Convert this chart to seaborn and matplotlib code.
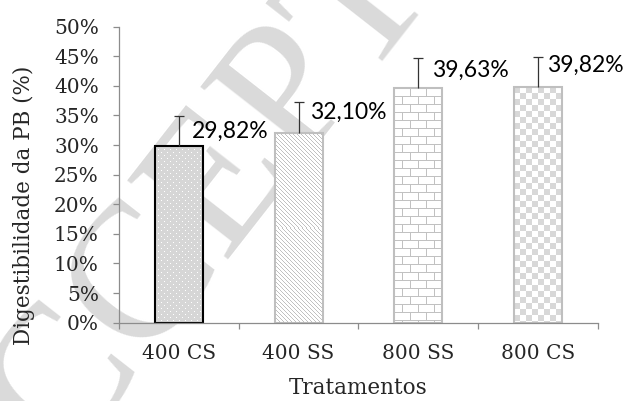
import numpy as np
import matplotlib
matplotlib.use("Agg")
import matplotlib.pyplot as plt
import seaborn as sns

# dados
tratamentos = ["400 CS", "400 SS", "800 SS", "800 CS"]
digest = [29.82, 32.10, 39.63, 39.82]      # %
erro_sup = [5.1, 5.1, 5.0, 5.0]            # barra de erro (so para cima)
y_ticks = [0, 5, 10, 15, 20, 25, 30, 35, 40, 45, 50]

# estilo de cada barra
padroes = ["dots", "diag", "brick", "check"]
bordas = ["black", "#bfbfbf", "#bfbfbf", "#bfbfbf"]
label_off = [(9.5, 10.5), (8.5, 14.5), (10, 13), (6.5, 15.5)]   # pontos

sns.set_style("white")
plt.rcParams["font.family"] = ["DejaVu Serif"]

SANS = "Lato"


def make_pattern(kind, w, h):
    yy, xx = np.mgrid[0:h, 0:w]
    img = np.ones((h, w, 3))
    if kind == "dots":
        img[:] = 0.84
        mask = (yy % 3 == 0) & ((xx + ((yy // 3) % 2) * 3) % 6 == 0)
        img[mask] = 1.0
    elif kind == "diag":
        mask = (xx - yy) % 4 == 0
        img[mask] = 0.76
    elif kind == "brick":
        row = yy // 8
        mask = (yy % 8 == 0) | (((xx + (row % 2) * 8) % 16) == 0)
        img[mask] = 0.76
    elif kind == "check":
        mask = ((xx // 6) + (yy // 6)) % 2 == 0
        img[mask] = 0.85
    return img


fig = plt.figure(figsize=(6.28, 4.01), dpi=100)

# marca d'agua
fig.text(0.40, 0.62, "ACCEPTED", rotation=52, fontsize=140,
         family="Liberation Serif", color="#dadada",
         ha="center", va="center", zorder=-1)

ax = fig.add_axes([0.1895, 0.1953, 0.7627, 0.7382])
ax.patch.set_alpha(0)

sns.barplot(x=tratamentos, y=digest, color="white", width=0.4,
            errorbar=None, ax=ax)

ax.set_xlim(-0.5, len(tratamentos) - 0.5)
ax.set_ylim(0, 50)

for patch, kind, ec in zip(ax.patches, padroes, bordas):
    patch.set_facecolor("none")
    patch.set_edgecolor(ec)
    patch.set_linewidth(1.5)
    patch.set_zorder(2)
    bb = patch.get_window_extent()
    w, h = max(int(round(bb.width)), 1), max(int(round(bb.height)), 1)
    x0 = patch.get_x()
    ext = [x0, x0 + patch.get_width(), 0, patch.get_height()]
    im = ax.imshow(make_pattern(kind, w, h), extent=ext, aspect="auto",
                   interpolation="nearest", zorder=1.5)
    im.set_clip_path(patch)

ax.set_xlim(-0.5, len(tratamentos) - 0.5)
ax.set_ylim(0, 50)

xs = np.arange(len(tratamentos))
eb = ax.errorbar(xs, digest, yerr=[np.zeros(len(digest)), erro_sup],
                 fmt="none", ecolor="#333333", elinewidth=0.9,
                 capsize=3.3, capthick=0.9, zorder=3)
eb.lines[1][0].set_visible(False)

for i, (v, off) in enumerate(zip(digest, label_off)):
    ax.annotate(f"{v:.2f}%".replace(".", ","), xy=(i, v), xytext=off,
                textcoords="offset points", ha="left", va="center",
                fontsize=16.5, family=SANS, color="black", zorder=4)

# eixos
for s in ["top", "right"]:
    ax.spines[s].set_visible(False)
for s in ["left", "bottom"]:
    ax.spines[s].set_color("#8c8c8c")
    ax.spines[s].set_linewidth(0.9)

ax.set_yticks(y_ticks)
ax.set_yticklabels([f"{t}%" for t in y_ticks])
ax.tick_params(axis="y", direction="out", length=4.5, width=0.9,
               color="#8c8c8c", pad=10, labelsize=14.5, left=True)

ax.set_xticks(xs)
ax.set_xticklabels(tratamentos)
ax.set_xticks(np.arange(-0.5, len(tratamentos)), minor=True)
ax.tick_params(axis="x", which="major", length=0, pad=15, labelsize=14.5)
ax.tick_params(axis="x", which="minor", direction="out", length=4.5,
               width=0.9, color="#8c8c8c", bottom=True)

ax.set_xlabel("Tratamentos", fontsize=15.5, va="center")
ax.xaxis.set_label_coords(0.5, -0.222)
ax.set_ylabel("Digestibilidade da PB (%)", fontsize=15.5, va="center")
ax.yaxis.set_label_coords(-0.198, 0.398)

fig.savefig("out.png", dpi=100)
